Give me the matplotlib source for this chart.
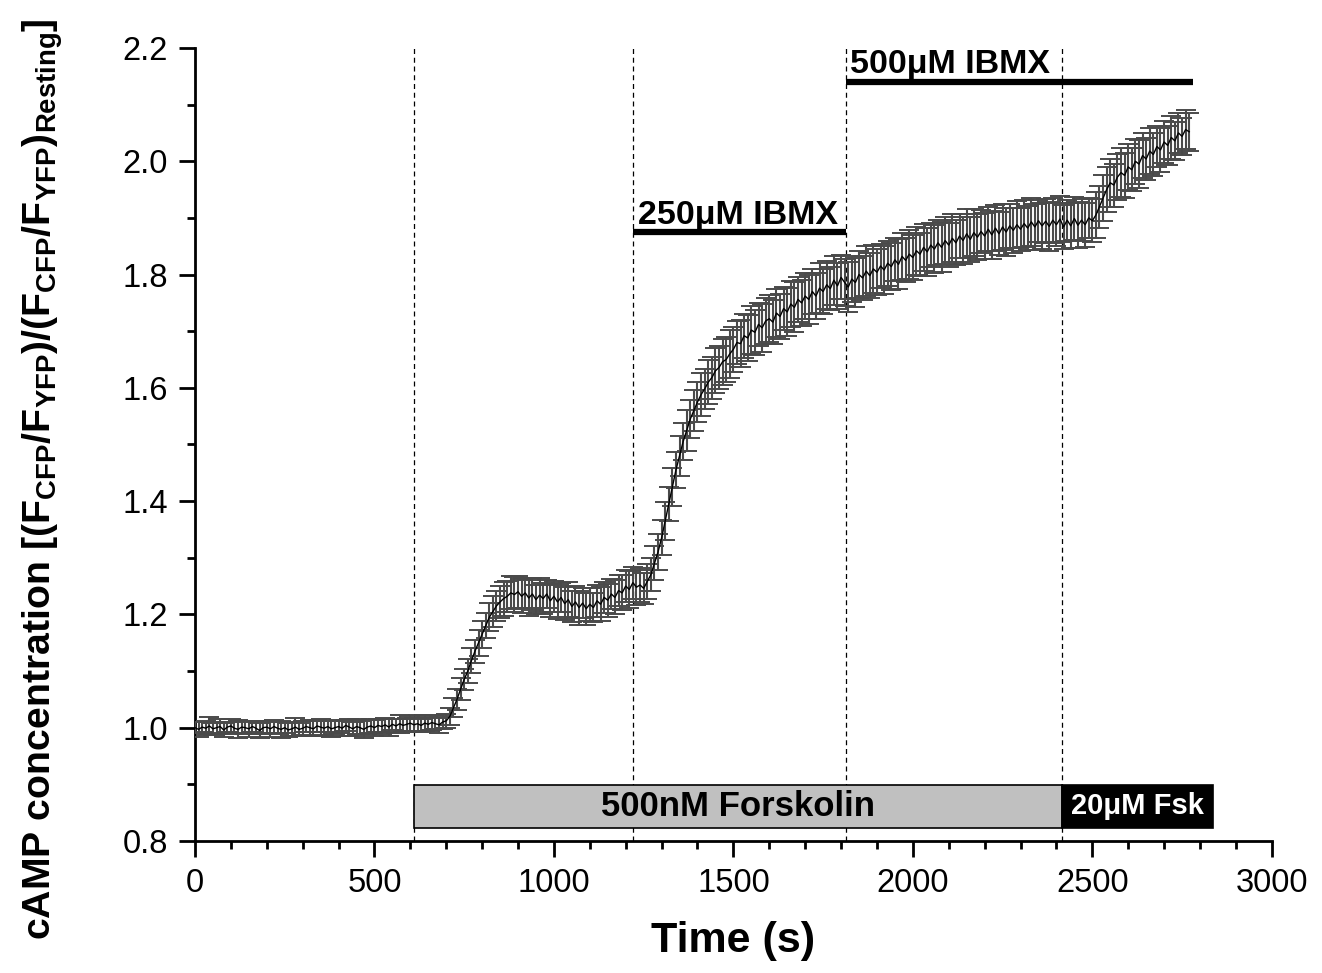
import matplotlib
matplotlib.use("Agg")
import matplotlib.pyplot as plt
from matplotlib.ticker import MultipleLocator, FormatStrFormatter

plt.rcParams['font.family'] = ['Liberation Sans', 'DejaVu Sans']
plt.rcParams['mathtext.fontset'] = 'custom'
plt.rcParams['mathtext.rm'] = 'Liberation Sans:bold'
plt.rcParams['mathtext.bf'] = 'Liberation Sans:bold'
plt.rcParams['mathtext.default'] = 'bf'

# ---------------- data ----------------
time_s = list(range(0, 2780, 10))
mean_ratio = [
    1.000, 0.997, 1.001, 0.999, 1.003, 0.998, 1.000, 1.002, 0.996, 1.001,
    1.003, 0.999, 0.997, 1.001, 1.000, 0.998, 1.002, 0.999, 0.995, 1.000,
    1.001, 0.998, 1.002, 0.999, 0.997, 1.000, 0.996, 0.998, 1.001, 0.997,
    0.999, 1.002, 1.000, 0.998, 1.003, 1.001, 0.999, 1.002, 0.998, 1.000,
    1.002, 0.999, 1.004, 1.001, 0.998, 1.002, 1.000, 0.997, 1.001, 1.003,
    1.000, 1.004, 1.002, 1.005, 1.001, 1.006, 1.003, 1.007, 1.004, 1.006,
    1.008, 1.005, 1.007, 1.004, 1.008, 1.006, 1.009, 1.007, 1.005, 1.010,
    1.012, 1.020, 1.035, 1.050, 1.068, 1.085, 1.100, 1.118, 1.135, 1.150,
    1.165, 1.180, 1.195, 1.205, 1.215, 1.222, 1.228, 1.232, 1.238, 1.235,
    1.240, 1.232, 1.238, 1.229, 1.236, 1.226, 1.234, 1.228, 1.236, 1.224,
    1.232, 1.222, 1.230, 1.219, 1.226, 1.214, 1.222, 1.212, 1.220, 1.210,
    1.218, 1.212, 1.224, 1.218, 1.230, 1.225, 1.236, 1.230, 1.242, 1.238,
    1.250, 1.244, 1.256, 1.248, 1.252, 1.246, 1.258, 1.270, 1.290, 1.310,
    1.335, 1.365, 1.395, 1.425, 1.455, 1.480, 1.505, 1.525, 1.545, 1.560,
    1.575, 1.588, 1.598, 1.610, 1.618, 1.630, 1.636, 1.646, 1.650, 1.660,
    1.668, 1.680, 1.678, 1.692, 1.688, 1.702, 1.698, 1.712, 1.706, 1.718,
    1.722, 1.716, 1.732, 1.726, 1.740, 1.734, 1.748, 1.742, 1.756, 1.750,
    1.762, 1.756, 1.770, 1.762, 1.776, 1.770, 1.782, 1.775, 1.790, 1.780,
    1.795, 1.786, 1.778, 1.792, 1.786, 1.800, 1.794, 1.806, 1.798, 1.810,
    1.804, 1.815, 1.808, 1.820, 1.814, 1.826, 1.818, 1.832, 1.825, 1.836,
    1.830, 1.842, 1.836, 1.848, 1.840, 1.852, 1.845, 1.856, 1.848, 1.860,
    1.852, 1.864, 1.856, 1.868, 1.860, 1.872, 1.862, 1.874, 1.866, 1.876,
    1.868, 1.880, 1.870, 1.882, 1.872, 1.884, 1.875, 1.886, 1.878, 1.888,
    1.880, 1.890, 1.882, 1.893, 1.884, 1.895, 1.886, 1.894, 1.885, 1.896,
    1.888, 1.898, 1.884, 1.896, 1.886, 1.899, 1.887, 1.896, 1.888, 1.900,
    1.895, 1.905, 1.920, 1.935, 1.950, 1.962, 1.958, 1.972, 1.980, 1.975,
    1.990, 1.985, 2.000, 1.995, 2.010, 2.004, 2.018, 2.012, 2.026, 2.020,
    2.034, 2.028, 2.042, 2.036, 2.050, 2.044, 2.056, 2.052,
]
sem_ratio = [
    0.010, 0.013, 0.009, 0.012, 0.015, 0.011, 0.010, 0.014, 0.012, 0.009,
    0.013, 0.011, 0.016, 0.010, 0.012, 0.014, 0.009, 0.011, 0.013, 0.012,
    0.010, 0.014, 0.012, 0.011, 0.015, 0.010, 0.013, 0.012, 0.016, 0.011,
    0.012, 0.010, 0.014, 0.013, 0.011, 0.015, 0.012, 0.010, 0.014, 0.012,
    0.011, 0.013, 0.010, 0.015, 0.012, 0.014, 0.011, 0.016, 0.012, 0.013,
    0.014, 0.011, 0.013, 0.012, 0.015, 0.010, 0.013, 0.016, 0.012, 0.011,
    0.013, 0.012, 0.015, 0.011, 0.014, 0.012, 0.013, 0.010, 0.014, 0.012,
    0.013, 0.015, 0.017, 0.018, 0.020, 0.019, 0.021, 0.022, 0.020, 0.023,
    0.024, 0.022, 0.025, 0.027, 0.026, 0.028, 0.030, 0.027, 0.029, 0.031,
    0.028, 0.030, 0.027, 0.031, 0.029, 0.026, 0.030, 0.028, 0.025, 0.029,
    0.027, 0.030, 0.026, 0.029, 0.031, 0.027, 0.028, 0.030, 0.026, 0.028,
    0.029, 0.026, 0.028, 0.030, 0.027, 0.029, 0.026, 0.030, 0.028, 0.031,
    0.029, 0.032, 0.028, 0.031, 0.030, 0.027, 0.031, 0.029, 0.030, 0.032,
    0.031, 0.033, 0.030, 0.034, 0.032, 0.035, 0.033, 0.036, 0.034, 0.037,
    0.035, 0.038, 0.036, 0.039, 0.037, 0.040, 0.038, 0.041, 0.039, 0.042,
    0.040, 0.038, 0.042, 0.039, 0.041, 0.043, 0.040, 0.038, 0.042, 0.040,
    0.041, 0.039, 0.043, 0.040, 0.038, 0.042, 0.040, 0.044, 0.039, 0.041,
    0.040, 0.043, 0.039, 0.041, 0.044, 0.040, 0.042, 0.038, 0.043, 0.041,
    0.039, 0.042, 0.045, 0.040, 0.043, 0.041, 0.039, 0.044, 0.040, 0.042,
    0.041, 0.039, 0.043, 0.040, 0.042, 0.038, 0.044, 0.041, 0.039, 0.043,
    0.040, 0.042, 0.038, 0.041, 0.043, 0.039, 0.042, 0.040, 0.044, 0.041,
    0.039, 0.042, 0.040, 0.038, 0.041, 0.043, 0.039, 0.042, 0.040, 0.038,
    0.041, 0.039, 0.042, 0.040, 0.038, 0.041, 0.043, 0.039, 0.040, 0.042,
    0.038, 0.041, 0.039, 0.042, 0.040, 0.037, 0.041, 0.039, 0.043, 0.040,
    0.038, 0.041, 0.039, 0.036, 0.040, 0.038, 0.041, 0.037, 0.039, 0.036,
    0.038, 0.040, 0.037, 0.041, 0.039, 0.042, 0.038, 0.040, 0.043, 0.039,
    0.041, 0.038, 0.040, 0.042, 0.039, 0.037, 0.040, 0.038, 0.036, 0.039,
    0.037, 0.035, 0.038, 0.034, 0.036, 0.033, 0.035, 0.034,
]
assert len(time_s) == len(mean_ratio) == len(sem_ratio)

phase_edges = [610, 1220, 1815, 2415]
forskolin_span = [610, 2415]
fsk_high_span = [2415, 2836]
ibmx250_span = [1220, 1815]
ibmx500_span = [1815, 2780]
box_y = [0.823, 0.899]
ibmx250_y = 1.875
ibmx500_y = 2.14

x_ticks = [0, 500, 1000, 1500, 2000, 2500, 3000]

# ---------------- figure ----------------
fig = plt.figure(figsize=(13.22, 9.73), dpi=100)
ax = fig.add_axes([0.1475, 0.1357, 0.8145, 0.815])

eb = ax.errorbar(time_s, mean_ratio, yerr=sem_ratio, fmt='-', color='black', lw=1.0,
                 ecolor='#4a4a4a', elinewidth=1.5, capsize=7, capthick=1.4, zorder=3)
for cl in eb[1]:
    cl.set_color('#111111')

ax.set_xlim(0, 3000)
ax.set_ylim(0.8, 2.2)

for xe in phase_edges:
    ax.axvline(xe, color='black', lw=0.9, ls=(0, (4, 3)), zorder=1)

# stimulus boxes
ax.add_patch(plt.Rectangle((forskolin_span[0], box_y[0]), forskolin_span[1] - forskolin_span[0],
                           box_y[1] - box_y[0], facecolor='#c0c0c0', edgecolor='black', lw=1.2, zorder=4))
ax.add_patch(plt.Rectangle((fsk_high_span[0], box_y[0]), fsk_high_span[1] - fsk_high_span[0],
                           box_y[1] - box_y[0], facecolor='black', edgecolor='black', lw=1.2, zorder=4,
                           clip_on=False))
ax.text(sum(forskolin_span) / 2, sum(box_y) / 2, '500nM Forskolin', ha='center', va='center',
        fontsize=25, fontweight='bold', zorder=5)
ax.text(sum(fsk_high_span) / 2, sum(box_y) / 2, '20\u03bcM Fsk', ha='center', va='center',
        fontsize=21, fontweight='bold', color='white', zorder=5)

# IBMX bars
ax.plot(ibmx250_span, [ibmx250_y] * 2, color='black', lw=4.5, solid_capstyle='butt', zorder=4)
ax.text(ibmx250_span[0] + 15, ibmx250_y + 0.014, '250\u03bcM IBMX', ha='left', va='baseline',
        fontsize=24.5, fontweight='bold')
ax.plot(ibmx500_span, [ibmx500_y] * 2, color='black', lw=4.5, solid_capstyle='butt', zorder=4)
ax.text(ibmx500_span[0] + 10, ibmx500_y + 0.015, '500\u03bcM IBMX', ha='left', va='baseline',
        fontsize=24.5, fontweight='bold')

# axes styling
for s in ['top', 'right']:
    ax.spines[s].set_visible(False)
for s in ['left', 'bottom']:
    ax.spines[s].set_linewidth(2.0)
ax.set_xticks(x_ticks)
ax.xaxis.set_minor_locator(MultipleLocator(100))
ax.yaxis.set_major_locator(MultipleLocator(0.2))
ax.yaxis.set_minor_locator(MultipleLocator(0.1))
ax.yaxis.set_major_formatter(FormatStrFormatter('%.1f'))
ax.tick_params(which='major', direction='out', length=11.5, width=2.0, labelsize=23.5, pad=8)
ax.tick_params(which='minor', direction='out', length=5.5, width=2.0)

ax.set_xlabel('Time (s)', fontsize=31, fontweight='bold', labelpad=16)

ylab = (r'cAMP concentration [(F$_{\mathbf{CFP}}$/F$_{\mathbf{YFP}}$)/'
        r'(F$_{\mathbf{CFP}}$/F$_{\mathbf{YFP}}$)$_{\mathbf{Resting}}$]')
fig.text(0.032, 0.508, ylab, rotation=90, ha='center', va='center', fontsize=28.3,
         fontweight='bold')

fig.savefig('out.png', dpi=100)
